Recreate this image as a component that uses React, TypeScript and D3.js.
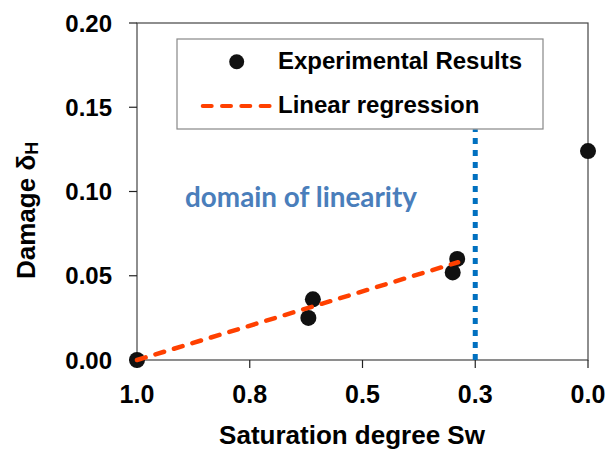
import React, { useRef, useEffect } from 'react';
import { select, scaleLinear, line } from 'd3';

// measured points (saturation degree Sw, damage dH)
const saturation = [1.0, 0.62, 0.61, 0.3, 0.29, 0.0];
const damage = [0, 0.025, 0.036, 0.052, 0.06, 0.124];

// linear fit, only over the linear domain
const fitSaturation = [1.0, 0.288];
const fitDamage = [0, 0.058];

// limit of the domain of linearity (drawn up to the legend)
const limitSaturation = 0.25;
const limitTop = 0.137;

const xTicks = [1.0, 0.75, 0.5, 0.25, 0.0];
const yTicks = [0, 0.05, 0.1, 0.15, 0.2];

const FONT = "'Liberation Sans', Arial, sans-serif";

function App() {
  const svgRef = useRef<SVGSVGElement>(null);

  useEffect(() => {
    const width = 608;
    const height = 451;
    const svg = select(svgRef.current).attr('width', width).attr('height', height);
    svg.selectAll('*').remove();

    const xScale = scaleLinear().domain([1, 0]).range([137, 588]);
    const yScale = scaleLinear().domain([0, 0.2]).range([360, 23]);

    // frame (top + right grey, axes black)
    svg
      .append('rect')
      .attr('x', xScale(1))
      .attr('y', yScale(0.2))
      .attr('width', xScale(0) - xScale(1))
      .attr('height', yScale(0) - yScale(0.2))
      .attr('fill', 'none')
      .attr('stroke', '#444')
      .attr('stroke-width', 1.2);

    // y ticks + labels
    svg
      .selectAll('.ytick')
      .data(yTicks)
      .join('line')
      .attr('class', 'ytick')
      .attr('x1', xScale(1) - 8)
      .attr('x2', xScale(1))
      .attr('y1', (d) => yScale(d))
      .attr('y2', (d) => yScale(d))
      .attr('stroke', '#222')
      .attr('stroke-width', 1.2);

    svg
      .selectAll('.ylabel')
      .data(yTicks)
      .join('text')
      .attr('class', 'ylabel')
      .attr('x', 112)
      .attr('y', (d) => yScale(d) + 8.5)
      .attr('text-anchor', 'end')
      .style('font', `bold 24px ${FONT}`)
      .text((d) => d.toFixed(2));

    // x ticks + labels
    svg
      .selectAll('.xtick')
      .data(xTicks)
      .join('line')
      .attr('class', 'xtick')
      .attr('x1', (d) => xScale(d))
      .attr('x2', (d) => xScale(d))
      .attr('y1', yScale(0))
      .attr('y2', yScale(0) + 8)
      .attr('stroke', '#222')
      .attr('stroke-width', 1.2);

    svg
      .selectAll('.xlabel')
      .data(xTicks)
      .join('text')
      .attr('class', 'xlabel')
      .attr('x', (d) => xScale(d))
      .attr('y', 403)
      .attr('text-anchor', 'middle')
      .style('font', `bold 25px ${FONT}`)
      .text((d) => d.toFixed(1));

    // axis titles
    svg
      .append('text')
      .attr('x', 352)
      .attr('y', 444)
      .attr('text-anchor', 'middle')
      .style('font', `bold 26px ${FONT}`)
      .text('Saturation degree Sw');

    const yTitle = svg
      .append('text')
      .attr('transform', 'translate(35,279) rotate(-90)')
      .style('font', `bold 26px ${FONT}`);
    yTitle.append('tspan').text('Damage δ');
    yTitle.append('tspan').attr('dy', 3).style('font-size', '18px').text('H');

    // limit of linearity (dotted blue)
    svg
      .append('line')
      .attr('x1', xScale(limitSaturation))
      .attr('x2', xScale(limitSaturation))
      .attr('y1', yScale(0))
      .attr('y2', yScale(limitTop))
      .attr('stroke', '#0070c0')
      .attr('stroke-width', 5)
      .attr('stroke-dasharray', '6 6');

    svg
      .append('text')
      .attr('x', 185)
      .attr('y', 207)
      .attr('textLength', 232)
      .attr('lengthAdjust', 'spacingAndGlyphs')
      .attr('fill', '#4a7ebb')
      .style('font', "bold 28px Lato, 'Open Sans', sans-serif")
      .text('domain of linearity');

    // points
    svg
      .selectAll('.pt')
      .data(saturation)
      .join('circle')
      .attr('class', 'pt')
      .attr('cx', (d) => xScale(d))
      .attr('cy', (d, i) => yScale(damage[i]))
      .attr('r', 8)
      .attr('fill', '#111');

    // regression line on top of the points
    const fitLine = line<number>()
      .x((d) => xScale(d))
      .y((d, i) => yScale(fitDamage[i]));
    svg
      .append('path')
      .attr('d', fitLine(fitSaturation))
      .attr('fill', 'none')
      .attr('stroke', '#ff4000')
      .attr('stroke-width', 4.5)
      .attr('stroke-linecap', 'round')
      .attr('stroke-dasharray', '9 10.3');

    // legend
    const legend = svg.append('g');
    legend
      .append('rect')
      .attr('x', 177)
      .attr('y', 39)
      .attr('width', 366)
      .attr('height', 90)
      .attr('fill', 'white')
      .attr('stroke', '#888')
      .attr('stroke-width', 1.2);
    legend.append('circle').attr('cx', 236.7).attr('cy', 61.7).attr('r', 7.5).attr('fill', '#111');
    legend
      .append('line')
      .attr('x1', 202.7)
      .attr('x2', 269.7)
      .attr('y1', 106)
      .attr('y2', 106)
      .attr('stroke', '#ff4000')
      .attr('stroke-width', 4)
      .attr('stroke-linecap', 'round')
      .attr('stroke-dasharray', '9 10.3');
    legend
      .append('text')
      .attr('x', 278)
      .attr('y', 69)
      .style('font', `bold 24px ${FONT}`)
      .text('Experimental Results');
    legend
      .append('text')
      .attr('x', 278)
      .attr('y', 113)
      .style('font', `bold 24px ${FONT}`)
      .text('Linear regression');
  }, []);

  return (
    <svg
      ref={svgRef}
      style={{ position: 'absolute', left: 0, top: 0, background: 'white' }}
    />
  );
}

export default App;
